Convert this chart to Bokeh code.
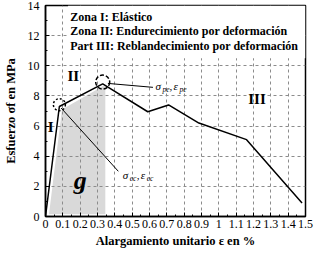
from bokeh.plotting import figure
from bokeh.models import FixedTicker, Label, Range1d
from bokeh.embed import file_html
from bokeh.resources import INLINE

# ---- data ----
strain = [0.0, 0.08, 0.33, 0.59, 0.71, 0.885, 1.16, 1.48]
stress = [0.0, 7.3, 8.8, 6.95, 7.4, 6.2, 5.1, 0.9]

shade_x = [0.02, 0.095, 0.33, 0.345, 0.345]
shade_y = [0.15, 7.1, 8.65, 8.65, 0.15]

x_ticks = [0.0, 0.1, 0.2, 0.3, 0.4, 0.5, 0.6, 0.7, 0.8, 0.9, 1.0, 1.1, 1.2, 1.3, 1.4, 1.5]
x_tick_labels = ["0", "0.1", "0.2", "0.3", "0.4", "0.5", "0.6", "0.7", "0.8", "0.9",
                 "1", "1.1", "1.2", "1.3", "1.4", "1.5"]
x_minor = [0.05, 0.15, 0.25, 0.35, 0.45, 0.55, 0.65, 0.75, 0.85, 0.95, 1.05, 1.15, 1.25, 1.35, 1.45]
y_ticks = [0, 2, 4, 6, 8, 10, 12, 14]
y_minor = [1, 3, 5, 7, 9, 11, 13]

zone_texts = ["Zona I:  Elástico",
              "Zona II: Endurecimiento por deformación",
              "Part III: Reblandecimiento por deformación"]

FONT = "Liberation Serif"

p = figure(width=315, height=250, x_range=Range1d(0, 1.5), y_range=Range1d(0, 14),
           output_backend="svg", toolbar_location=None,
           min_border_left=40, min_border_right=10, min_border_top=5, min_border_bottom=30)
p.background_fill_color = "white"
p.border_fill_color = "white"
p.outline_line_color = "black"
p.outline_line_width = 1.5

# axes
p.xaxis.ticker = FixedTicker(ticks=x_ticks, minor_ticks=x_minor)
p.xaxis.major_label_overrides = {t: l for t, l in zip(x_ticks, x_tick_labels)}
p.yaxis.ticker = FixedTicker(ticks=y_ticks, minor_ticks=y_minor)
for ax in (p.xaxis, p.yaxis):
    ax.axis_line_color = "black"
    ax.axis_line_width = 1.5
    ax.major_tick_in = 4
    ax.major_tick_out = 0
    ax.minor_tick_in = 2
    ax.minor_tick_out = 0
    ax.major_tick_line_color = "black"
    ax.minor_tick_line_color = "black"
    ax.major_label_text_font = FONT
    ax.major_label_text_font_size = "12px"
    ax.major_label_text_color = "black"
    ax.axis_label_text_font = FONT
    ax.axis_label_text_font_size = "12.5px"
    ax.axis_label_text_font_style = "bold"
    ax.axis_label_text_color = "black"
p.xaxis.major_label_standoff = 3
p.xaxis.axis_label_standoff = 3
p.yaxis.major_label_standoff = 6
p.yaxis.axis_label_standoff = 7
p.xaxis.axis_label = "Alargamiento unitario ε en %"
p.yaxis.axis_label = "Esfuerzo σf en MPa"

# grids
p.xgrid.ticker = FixedTicker(ticks=x_ticks[1:-1])
p.ygrid.ticker = FixedTicker(ticks=y_ticks[1:-1])
for g in (p.xgrid, p.ygrid):
    g.grid_line_color = "#8c8c8c"
    g.grid_line_dash = "3 3"
    g.grid_line_width = 1

# shaded area (below grid)
p.patch(shade_x, shade_y, fill_color="#d9d9d9", line_color=None, level="image")

# white box behind the zone texts
p.quad(left=0.13, right=1.5, bottom=10.5, top=14, fill_color="white", line_color=None)

# curve
p.line(strain, stress, line_color="black", line_width=1.5)

# circles around characteristic points
p.scatter([strain[1]], [stress[1] + 0.12], size=12, marker="circle", fill_color=None,
          line_color="black", line_dash="2 2", line_width=1.5)
p.scatter([strain[2]], [stress[2] + 0.12], size=14, marker="circle", fill_color=None,
          line_color="black", line_dash="4 2", line_width=1.5)

# leader lines
p.segment(x0=[strain[1] + 0.01, strain[2] + 0.03], y0=[stress[1] - 0.1, stress[2] + 0.03],
          x1=[0.42, 0.62], y1=[3.0, 8.57], line_color="black", line_width=1)

# zone texts
for i, t in enumerate(zone_texts):
    p.add_layout(Label(x=0.143, y=13.27 - 0.98 * i, text=t, text_font=FONT,
                       text_font_size="12px", text_font_style="bold",
                       text_baseline="middle", text_color="black"))

# region labels
for t, x, y in [("I", 0.03, 5.95), ("II", 0.16, 9.35), ("III", 1.22, 7.78)]:
    p.add_layout(Label(x=x, y=y, text=t, text_font=FONT, text_font_size="15px",
                       text_font_style="bold", text_align="center",
                       text_baseline="middle", text_color="black"))
p.add_layout(Label(x=0.2, y=2.4, text="g", text_font=FONT, text_font_size="26px",
                   text_font_style="bold italic", text_align="center",
                   text_baseline="middle", text_color="black"))

# point labels with subscripts
def sub_label(x, y, sym1, sub1, sym2, sub2):
    parts = [(sym1, 0, 0, "11px"), (sub1, 7, -3, "7.5px"), (",", 14, 0, "11px"),
             (sym2, 18, 0, "11px"), (sub2, 24, -3, "7.5px")]
    for t, dx, dy, fs in parts:
        p.add_layout(Label(x=x, y=y, x_offset=dx, y_offset=dy, text=t, text_font=FONT,
                           text_font_size=fs, text_font_style="italic",
                           text_baseline="middle", text_color="black"))

sub_label(0.445, 2.75, "σ", "ec", "ε", "ec")
sub_label(0.635, 8.65, "σ", "pe", "ε", "pe")

open("out.html", "w").write(file_html(p, INLINE))
